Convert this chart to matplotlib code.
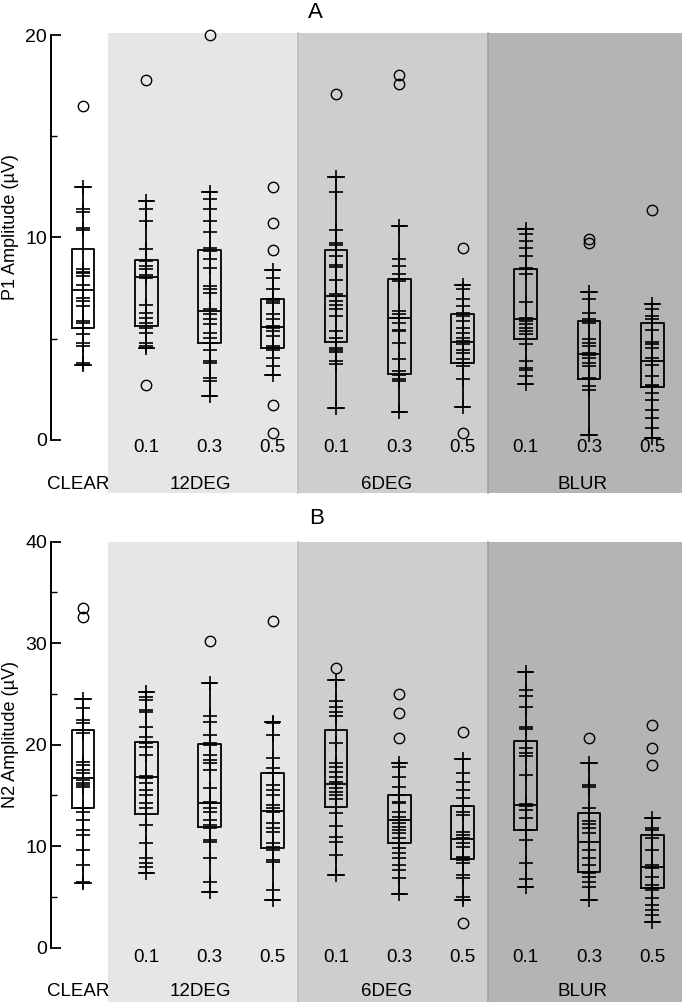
import matplotlib
matplotlib.use("Agg")
import matplotlib.pyplot as plt

plt.rcParams["font.family"] = ["Liberation Sans", "DejaVu Sans"]

positions = [1, 2, 3, 4, 5, 6, 7, 8, 9, 10]
level_labels = ["", "0.1", "0.3", "0.5", "0.1", "0.3", "0.5", "0.1", "0.3", "0.5"]
group_names = ["CLEAR", "12DEG", "6DEG", "BLUR"]
group_label_x = [0.92, 2.85, 5.8, 8.9]

# ---- P1 amplitude (panel A)
p1_median = [7.39, 8.07, 6.36, 5.57, 7.11, 6.00, 4.84, 5.98, 4.25, 3.88]
p1_q1 = [5.54, 5.62, 4.79, 4.55, 4.83, 3.26, 3.80, 4.96, 2.98, 2.61]
p1_q3 = [9.45, 8.89, 9.39, 6.98, 9.37, 7.97, 6.20, 8.46, 5.87, 5.75]
p1_low = [3.72, 4.55, 2.15, 3.22, 1.57, 1.37, 1.62, 2.78, 0.25, 0.08]
p1_high = [12.51, 11.82, 12.23, 8.40, 12.97, 10.58, 7.64, 10.41, 7.31, 6.69]
p1_outliers = [
    [16.48],
    [17.77, 2.73],
    [20.0],
    [12.48, 10.69, 9.37, 1.70, 0.33],
    [17.1],
    [18.02, 17.6],
    [9.50, 0.36],
    [],
    [9.92, 9.75],
    [11.36],
]
p1_points = [
    [12.51, 11.40, 11.24, 10.45, 10.38, 8.46, 8.30, 8.23, 8.10, 7.64, 7.02, 6.86,
     6.61, 5.87, 5.79, 5.54, 5.21, 4.79, 4.63, 3.80, 3.72],
    [11.82, 11.40, 10.83, 9.42, 8.84, 8.60, 8.43, 8.13, 8.02, 6.64, 6.28, 6.03,
     5.79, 5.54, 5.29, 4.79, 4.63, 4.55],
    [12.23, 11.90, 11.40, 10.83, 10.25, 9.50, 9.34, 8.93, 8.51, 7.60, 7.44, 7.27,
     6.45, 6.20, 5.95, 5.70, 5.29, 5.04, 4.79, 4.46, 3.88, 3.80, 3.06, 2.89, 2.15],
    [8.40, 8.02, 7.44, 6.98, 6.86, 6.78, 6.20, 5.95, 5.62, 5.54, 5.37, 5.12,
     4.63, 4.55, 4.46, 4.05, 3.64, 3.22],
    [12.97, 12.23, 10.38, 9.72, 9.62, 9.09, 8.63, 8.56, 7.90, 7.19, 7.11, 6.86,
     6.64, 6.48, 6.11, 5.37, 5.04, 4.55, 4.43, 4.33, 3.88, 3.77, 1.57],
    [10.58, 8.93, 8.60, 8.18, 7.93, 7.85, 6.36, 6.20, 6.03, 5.79, 5.45, 5.37,
     4.79, 3.97, 3.39, 3.22, 2.98, 2.89, 1.37],
    [7.64, 7.44, 6.94, 6.61, 6.28, 6.12, 5.87, 5.54, 5.29, 5.04, 4.88, 4.71,
     4.46, 4.30, 3.97, 3.80, 3.64, 2.98, 1.62],
    [10.41, 10.17, 9.83, 9.50, 9.09, 8.51, 8.43, 8.18, 6.81, 6.03, 5.87, 5.70,
     5.54, 5.37, 5.21, 4.71, 3.88, 3.55, 3.47, 3.14, 2.78],
    [7.31, 6.94, 6.28, 5.95, 5.79, 4.96, 4.79, 4.63, 4.30, 4.21, 4.05, 3.80,
     3.64, 3.06, 2.98, 2.64, 2.48, 0.25],
    [6.69, 6.45, 6.12, 5.95, 5.45, 4.83, 4.71, 4.55, 4.05, 3.72, 3.14, 2.73,
     2.64, 2.31, 1.98, 1.49, 1.07, 0.58, 0.08],
]

# ---- N2 amplitude (panel B)
n2_median = [16.68, 16.78, 14.29, 13.50, 16.10, 12.58, 10.67, 14.06, 10.38, 7.98]
n2_q1 = [13.73, 13.17, 11.86, 9.85, 13.83, 10.28, 8.70, 11.59, 7.42, 5.85]
n2_q3 = [21.44, 20.30, 20.03, 17.24, 21.45, 15.04, 13.96, 20.39, 13.23, 11.10]
n2_low = [6.34, 7.32, 5.52, 4.70, 7.16, 5.29, 4.70, 6.01, 4.70, 2.56]
n2_high = [24.50, 25.22, 26.11, 22.27, 26.37, 18.16, 18.56, 27.13, 18.23, 12.74]
n2_outliers = [
    [33.43, 32.55],
    [],
    [30.25],
    [32.22],
    [27.59],
    [24.96, 23.09, 20.62],
    [21.22, 2.40],
    [],
    [20.69],
    [21.94, 19.64, 18.00],
]
n2_points = [
    [24.50, 23.58, 22.43, 22.10, 21.44, 21.12, 18.33, 18.00, 17.50, 17.18, 16.52,
     16.19, 16.03, 15.80, 13.73, 13.40, 12.58, 11.59, 11.10, 9.62, 8.14, 6.50, 6.34],
    [25.22, 24.73, 24.40, 23.42, 23.25, 21.77, 20.79, 20.13, 19.80, 18.98, 16.91,
     16.78, 16.68, 16.19, 15.53, 15.04, 14.22, 13.73, 12.09, 10.28, 8.80, 8.31,
     7.98, 7.32],
    [26.11, 22.82, 22.27, 20.95, 20.13, 19.97, 18.98, 18.49, 18.16, 17.50, 15.70,
     14.38, 14.22, 13.73, 13.40, 12.58, 12.09, 11.76, 10.61, 10.44, 8.80, 6.50, 5.52],
    [22.27, 22.10, 20.95, 18.65, 17.67, 17.18, 16.03, 15.53, 15.04, 14.06, 13.73,
     13.40, 12.25, 11.76, 11.43, 10.28, 9.95, 9.62, 8.64, 8.47, 5.68, 4.70],
    [26.37, 24.31, 23.75, 23.25, 22.83, 20.14, 18.23, 17.83, 17.34, 16.85, 16.35,
     15.70, 15.37, 15.04, 14.62, 13.24, 12.02, 10.88, 10.44, 9.13, 7.16],
    [18.16, 17.83, 16.85, 15.86, 15.04, 14.38, 14.22, 13.40, 12.91, 12.58, 12.25,
     11.92, 11.59, 11.26, 10.77, 10.28, 9.79, 9.29, 8.80, 8.14, 7.65, 6.83, 5.29],
    [18.56, 17.18, 16.35, 15.53, 14.71, 13.96, 13.40, 13.07, 11.43, 11.10, 10.77,
     10.28, 9.95, 8.97, 8.80, 8.64, 8.31, 7.16, 6.83, 5.02, 4.70],
    [27.13, 25.39, 24.80, 23.68, 21.77, 21.51, 19.64, 19.15, 18.88, 17.01, 14.15,
     13.96, 13.56, 12.74, 11.59, 10.61, 8.31, 6.77, 6.01],
    [18.23, 16.03, 15.80, 13.73, 12.51, 12.18, 11.76, 11.26, 9.62, 8.80, 8.14,
     7.49, 7.32, 7.00, 6.50, 6.01, 4.70],
    [12.74, 11.76, 11.59, 10.77, 9.62, 8.14, 7.82, 7.00, 6.17, 5.85, 5.68, 4.86,
     4.20, 3.71, 3.22, 2.56],
]

band_spans = [(1.4, 4.4), (4.4, 7.4), (7.4, 10.5)]
band_colors = ["#e6e6e6", "#cecece", "#b4b4b4"]


def draw_panel(ax, median, q1, q3, low, high, outliers, points,
               ymax, ymin, major, minor, num_y, grp_y):
    for (a, b), c in zip(band_spans, band_colors):
        ax.axvspan(a, b, color=c, lw=0, zorder=0)
    ax.axvline(4.4, color="#bcbcbc", lw=1.2, zorder=0.5)
    ax.axvline(7.4, color="#a2a2a2", lw=1.2, zorder=0.5)

    stats = []
    for i in range(len(positions)):
        stats.append(dict(med=median[i], q1=q1[i], q3=q3[i],
                          whislo=low[i], whishi=high[i], fliers=outliers[i]))
    ax.bxp(stats, positions=positions, widths=0.36, capwidths=0.24,
           boxprops=dict(color="black", lw=1.3),
           medianprops=dict(color="black", lw=1.3),
           whiskerprops=dict(color="black", lw=1.3),
           capprops=dict(color="black", lw=1.3),
           flierprops=dict(marker="o", markersize=7.5, markerfacecolor="none",
                           markeredgecolor="black", markeredgewidth=1.0),
           manage_ticks=False)
    # whisker line also runs through the box
    ax.vlines(positions, q1, q3, color="black", lw=1.3, zorder=2)
    for x, pts in zip(positions, points):
        ax.plot([x] * len(pts), pts, "+", color="black", markersize=10.5,
                markeredgewidth=1.2, zorder=3)
    for art in ax.lines:
        art.set_clip_on(False)

    ax.set_xlim(0.5, 10.47)
    ax.set_ylim(ymin, ymax)
    for s in ["top", "right", "bottom"]:
        ax.spines[s].set_visible(False)
    ax.spines["left"].set_bounds(0, major[-1])
    ax.spines["left"].set_linewidth(1.4)
    ax.set_facecolor("white")
    ax.set_xticks([])
    ax.set_yticks(major)
    ax.set_yticks(minor, minor=True)
    ax.tick_params(axis="y", which="major", direction="in", length=7,
                   width=1.3, labelsize=14, pad=3)
    ax.tick_params(axis="y", which="minor", direction="in", length=4, width=1.0)

    for x, lab in zip(positions, level_labels):
        ax.text(x, num_y, lab, ha="center", va="center", fontsize=13.5)
    for x, lab in zip(group_label_x, group_names):
        ax.text(x, grp_y, lab, ha="center", va="center", fontsize=13.5)


fig = plt.figure(figsize=(6.82, 10.02), dpi=100)
W, H = 682.0, 1002.0
x0 = 51.4

axA = fig.add_axes([x0 / W, (H - 493) / H, (W - x0) / W, (493 - 33.5) / H])
draw_panel(axA, p1_median, p1_q1, p1_q3, p1_low, p1_high, p1_outliers,
           p1_points, 20.08, -2.63, [0, 10, 20], [5, 15], -0.40, -2.23)

axB = fig.add_axes([x0 / W, 0, (W - x0) / W, (H - 541.7) / H])
draw_panel(axB, n2_median, n2_q1, n2_q3, n2_low, n2_high, n2_outliers,
           n2_points, 40.0, -5.35, [0, 10, 20, 30, 40], [5, 15, 25, 35],
           -0.92, -4.33)

fig.text(11 / W, 1 - 227 / H, "P1 Amplitude (\u00b5V)", rotation=90,
         ha="center", va="center", fontsize=13)
fig.text(11 / W, 1 - 735 / H, "N2 Amplitude (\u00b5V)", rotation=90,
         ha="center", va="center", fontsize=13)
fig.text(315 / W, 1 - 13 / H, "A", ha="center", va="center", fontsize=16)
fig.text(317 / W, 1 - 518 / H, "B", ha="center", va="center", fontsize=16)

fig.savefig("out.png", dpi=100)
